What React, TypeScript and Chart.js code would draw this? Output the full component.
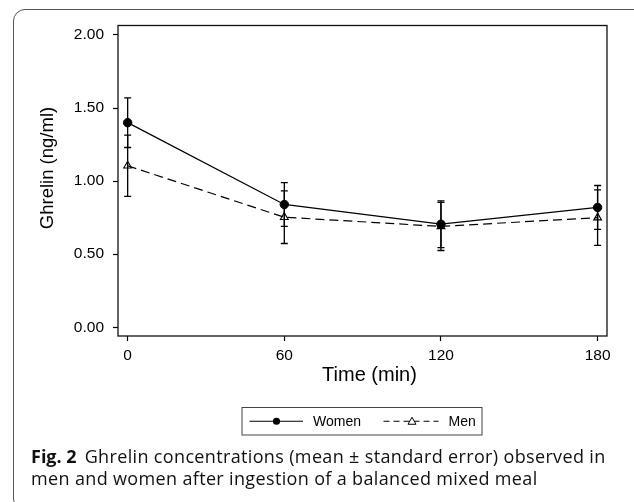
import React, { useEffect, useRef } from "react";
import { Chart, registerables } from "chart.js";

Chart.register(...registerables);

const timePoints = [0, 60, 120, 180];
const xTickValues = [0, 60, 120, 180];
const yTickValues = [0, 0.5, 1.0, 1.5, 2.0];
const womenMean = [1.4, 0.84, 0.705, 0.82];
const womenSE = [0.17, 0.15, 0.16, 0.15];
const menMean = [1.105, 0.753, 0.69, 0.75];
const menSE = [0.21, 0.18, 0.165, 0.19];
const seriesLabels = ["Women", "Men"];
const xTitle = "Time (min)";
const yTitle = "Ghrelin (ng/ml)";

const FONT = '"Liberation Sans", Arial, sans-serif';

const errorBarPlugin = {
  id: "errorBars",
  beforeDatasetsDraw(chart: any) {
    const { ctx } = chart;
    const xs = chart.scales.x;
    const ys = chart.scales.y;
    const sets = [
      { mean: womenMean, se: womenSE },
      { mean: menMean, se: menSE },
    ];
    ctx.save();
    ctx.strokeStyle = "#000";
    ctx.lineWidth = 1.3;
    ctx.setLineDash([]);
    sets.forEach((s) => {
      s.mean.forEach((m, i) => {
        const px = xs.getPixelForValue(timePoints[i]);
        const top = ys.getPixelForValue(m + s.se[i]);
        const bot = ys.getPixelForValue(m - s.se[i]);
        ctx.beginPath();
        ctx.moveTo(px, top);
        ctx.lineTo(px, bot);
        ctx.moveTo(px - 3.5, top);
        ctx.lineTo(px + 3.5, top);
        ctx.moveTo(px - 3.5, bot);
        ctx.lineTo(px + 3.5, bot);
        ctx.stroke();
      });
    });
    ctx.restore();
  },
};

const framePlugin = {
  id: "frameAndDecor",
  afterDraw(chart: any) {
    const { ctx, chartArea: a } = chart;
    ctx.save();
    // frame
    ctx.strokeStyle = "#111";
    ctx.lineWidth = 1.3;
    ctx.setLineDash([]);
    ctx.strokeRect(a.left, a.top, a.right - a.left, a.bottom - a.top);

    // axis titles
    ctx.fillStyle = "#000";
    ctx.font = `20px ${FONT}`;
    ctx.textAlign = "center";
    ctx.textBaseline = "middle";
    ctx.fillText(xTitle, (a.left + a.right) / 2 + 7, 375);
    ctx.save();
    ctx.translate(48, 168);
    ctx.rotate(-Math.PI / 2);
    ctx.font = `18.5px ${FONT}`;
    ctx.fillText(yTitle, 0, 0);
    ctx.restore();

    // legend
    const cx = (a.left + a.right) / 2;
    const bx = cx - 120.5;
    const by = 407.5;
    const bw = 240;
    const bh = 27.5;
    const ly = by + bh / 2;
    ctx.strokeStyle = "#444";
    ctx.lineWidth = 1;
    ctx.strokeRect(bx, by, bw, bh);

    ctx.strokeStyle = "#000";
    ctx.lineWidth = 1.2;
    ctx.beginPath();
    ctx.moveTo(bx + 7.5, ly);
    ctx.lineTo(bx + 61, ly);
    ctx.stroke();
    ctx.beginPath();
    ctx.arc(bx + 34.5, ly, 3.6, 0, Math.PI * 2);
    ctx.fillStyle = "#000";
    ctx.fill();

    ctx.font = `14px ${FONT}`;
    ctx.textAlign = "left";
    ctx.textBaseline = "middle";
    ctx.fillText(seriesLabels[0], bx + 71, ly + 0.5);

    ctx.setLineDash([6, 4]);
    ctx.beginPath();
    ctx.moveTo(bx + 141.5, ly);
    ctx.lineTo(bx + 196.5, ly);
    ctx.stroke();
    ctx.setLineDash([]);
    const tx = bx + 170;
    ctx.beginPath();
    ctx.moveTo(tx, ly - 4);
    ctx.lineTo(tx + 4, ly + 3);
    ctx.lineTo(tx - 4, ly + 3);
    ctx.closePath();
    ctx.fillStyle = "#fff";
    ctx.fill();
    ctx.strokeStyle = "#000";
    ctx.lineWidth = 1;
    ctx.stroke();
    ctx.fillStyle = "#000";
    ctx.fillText(seriesLabels[1], bx + 206.5, ly + 0.5);
    ctx.restore();
  },
};

export default function App() {
  const ref = useRef<HTMLCanvasElement>(null);

  useEffect(() => {
    if (!ref.current) return;
    const chart = new Chart(ref.current, {
      type: "line",
      data: {
        datasets: [
          {
            label: seriesLabels[0],
            data: timePoints.map((t, i) => ({ x: t, y: womenMean[i] })),
            borderColor: "#000",
            borderWidth: 1.3,
            pointStyle: "circle",
            pointRadius: 4.2,
            pointBackgroundColor: "#000",
            pointBorderColor: "#000",
            pointBorderWidth: 1,
            tension: 0,
          },
          {
            label: seriesLabels[1],
            data: timePoints.map((t, i) => ({ x: t, y: menMean[i] })),
            borderColor: "#000",
            borderWidth: 1.2,
            borderDash: [9, 5],
            pointStyle: "triangle",
            pointRadius: 4.5,
            pointBackgroundColor: "rgba(255,255,255,0)",
            pointBorderColor: "#000",
            pointBorderWidth: 1.1,
            tension: 0,
          },
        ],
      },
      options: {
        responsive: false,
        animation: false,
        devicePixelRatio: 1,
        layout: { padding: { left: 0, top: 25.5, right: 27, bottom: 126 } },
        plugins: {
          legend: { display: false },
          tooltip: { enabled: false },
          title: { display: false },
        },
        scales: {
          x: {
            type: "linear",
            min: -3.7,
            max: 183.6,
            afterBuildTicks: (s: any) => {
              s.ticks = xTickValues.map((v) => ({ value: v }));
            },
            afterFit: (s: any) => {
              s.height = 40;
            },
            border: { display: false },
            grid: {
              display: true,
              drawOnChartArea: false,
              drawTicks: true,
              tickLength: 5,
              tickColor: "#000",
              tickWidth: 1.2,
            },
            ticks: {
              color: "#000",
              font: { family: FONT, size: 15.5 },
              padding: 5,
              maxRotation: 0,
              autoSkip: false,
              callback: (v: any) => String(v),
            },
          },
          y: {
            type: "linear",
            min: -0.06,
            max: 2.065,
            afterBuildTicks: (s: any) => {
              s.ticks = yTickValues.map((v) => ({ value: v }));
            },
            afterFit: (s: any) => {
              s.width = 118;
            },
            border: { display: false },
            grid: {
              display: true,
              drawOnChartArea: false,
              drawTicks: true,
              tickLength: 5,
              tickColor: "#000",
              tickWidth: 1.2,
            },
            ticks: {
              color: "#000",
              font: { family: FONT, size: 15.5 },
              padding: 9,
              autoSkip: false,
              callback: (v: any) => Number(v).toFixed(2),
            },
          },
        },
      },
      plugins: [errorBarPlugin, framePlugin],
    });
    return () => chart.destroy();
  }, []);

  return (
    <div
      style={{
        position: "absolute",
        left: 0,
        top: 0,
        width: 634,
        height: 502,
        overflow: "hidden",
        background: "#fff",
      }}
    >
      <div
        style={{
          position: "absolute",
          left: 13,
          top: 9,
          width: 640,
          height: 502,
          border: "1.5px solid #555",
          borderRadius: 12,
          boxSizing: "border-box",
        }}
      />
      <canvas
        ref={ref}
        width={634}
        height={502}
        style={{ position: "absolute", left: 0, top: 0, width: 634, height: 502 }}
      />
      <div
        style={{
          position: "absolute",
          left: 31,
          top: 445,
          fontFamily: '"Open Sans", "Noto Sans", sans-serif',
          fontSize: 18,
          letterSpacing: 0.35,
          lineHeight: "22px",
          color: "#111",
          whiteSpace: "nowrap",
        }}
      >
        <span style={{ fontWeight: 700, letterSpacing: 0 }}>Fig. 2</span>
        <span style={{ marginLeft: 8 }}>
          Ghrelin concentrations (mean ± standard error) observed in
        </span>
        <br />
        men and women after ingestion of a balanced mixed meal
      </div>
    </div>
  );
}
